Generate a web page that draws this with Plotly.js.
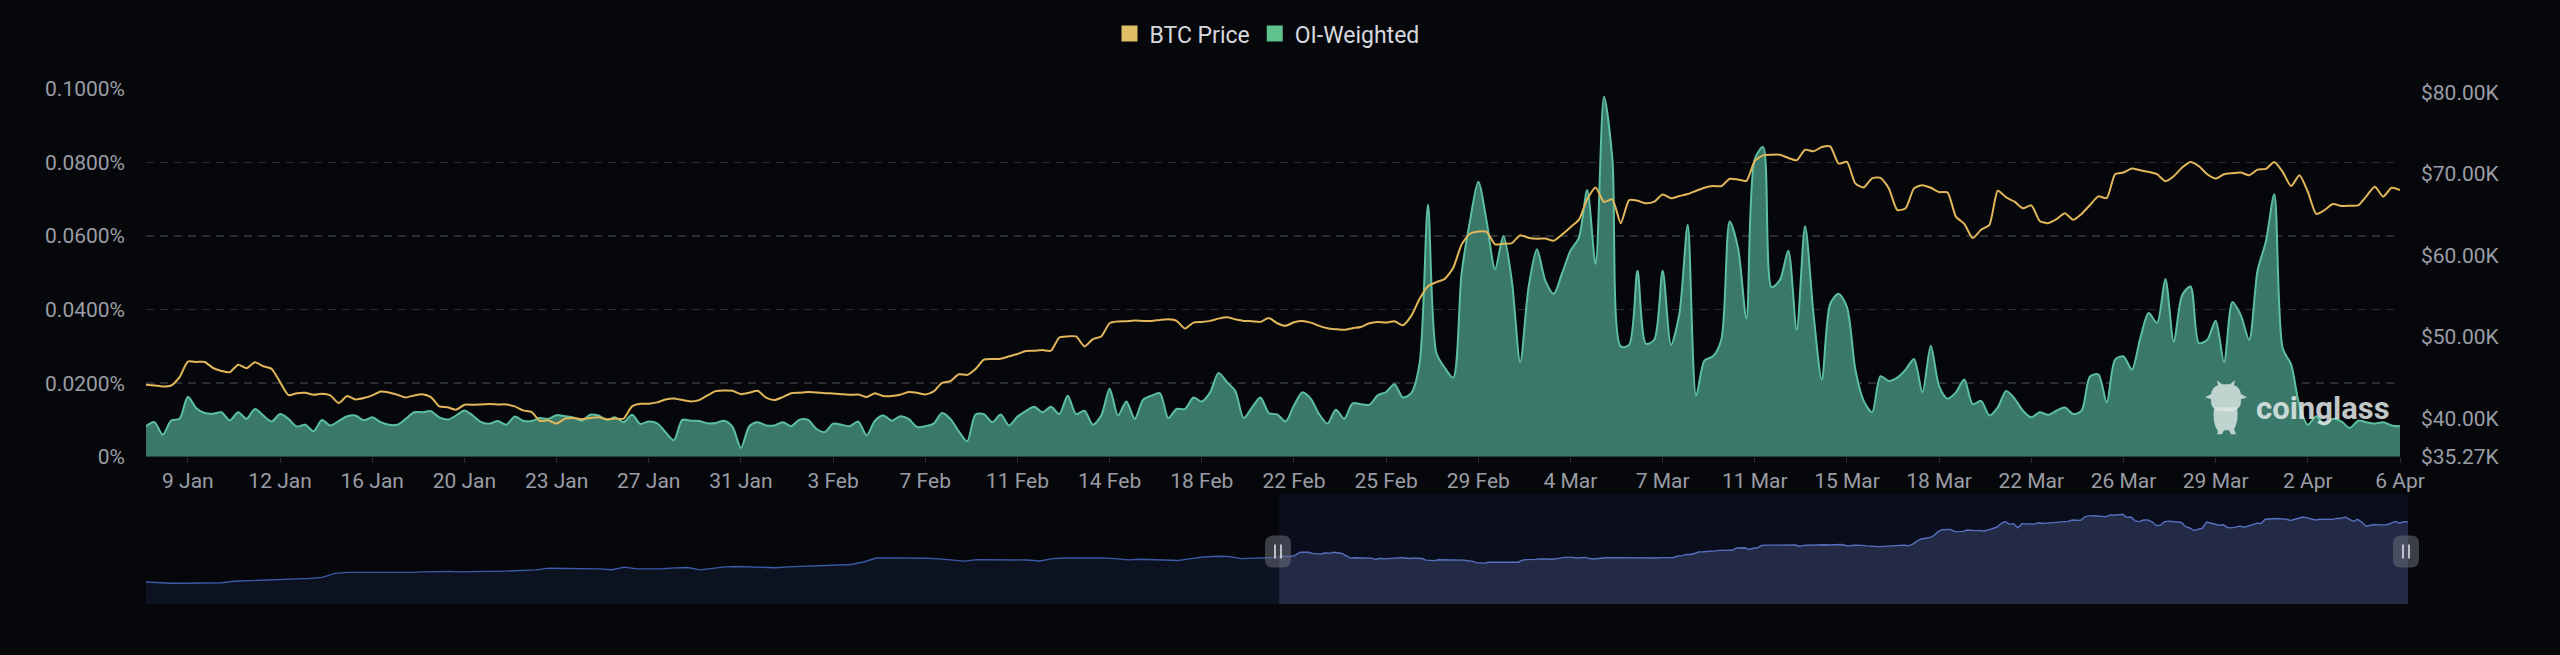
<!DOCTYPE html>
<html>
<head>
<meta charset="utf-8">
<script src="https://cdn.plot.ly/plotly-3.0.1.min.js"></script>
<style>
html,body{margin:0;padding:0;background:#06070b;}
#chart{width:2560px;height:655px;}
</style>
</head>
<body>
<div id="chart"></div>
<script>
// ---- data (8-hourly, first point 2024-01-07 08:00) ----
const seriesStart = '2024-01-07 08:00';
const stepMs = 8 * 3600 * 1000;

// OI-weighted funding rate, in %
const oiWeighted = [
0.0083,0.0094,0.0060,0.0098,0.0103,0.0163,0.0132,0.0119,0.0117,0.0121,
0.0099,0.0121,0.0103,0.0130,0.0112,0.0096,0.0116,0.0103,0.0082,0.0087,
0.0069,0.0100,0.0085,0.0097,0.0110,0.0112,0.0099,0.0107,0.0094,0.0087,
0.0087,0.0103,0.0121,0.0121,0.0124,0.0107,0.0101,0.0112,0.0126,0.0112,
0.0094,0.0090,0.0097,0.0087,0.0109,0.0098,
0.0097,0.0105,0.0103,0.0113,0.0110,0.0107,0.0098,0.0114,0.0112,0.0100,
0.0107,0.0094,0.0114,0.0089,0.0096,0.0091,0.0067,0.0045,0.0100,0.0098,
0.0097,0.0091,0.0092,0.0098,0.0081,0.0024,0.0083,0.0094,0.0085,0.0085,
0.0094,0.0083,0.0101,0.0100,0.0076,0.0067,0.0090,0.0087,0.0083,0.0096,
0.0058,0.0098,0.0112,0.0098,0.0110,0.0103,
0.0081,0.0083,0.0090,0.0119,0.0103,0.0069,0.0042,0.0115,0.0116,0.0094,
0.0115,0.0085,0.0109,0.0124,0.0136,0.0121,0.0136,0.0116,0.0166,0.0116,
0.0125,0.0087,0.0112,0.0185,0.0112,0.0150,0.0103,0.0155,0.0166,0.0173,
0.0105,0.0130,0.0130,0.0161,0.0150,0.0175,0.0228,0.0203,0.0179,0.0105,
0.0134,0.0161,0.0119,0.0115,0.0096,
0.0139,0.0175,0.0158,0.0116,0.0090,0.0128,0.0103,0.0145,0.0143,0.0141,
0.0167,0.0176,0.0197,0.0161,0.0173,0.0255,0.0685,0.0282,0.0242,0.0215,
0.0497,0.0640,0.0748,0.0640,0.0510,0.0600,0.0479,0.0257,0.0461,0.0564,
0.0479,0.0443,0.0499,0.0560,0.0595,0.0725,0.0524,0.0979,0.0810,0.0300,
0.0304,0.0506,0.0307,0.0318,0.0506,0.0304,
0.0389,0.0631,0.0166,0.0262,0.0273,0.0318,0.0640,0.0568,0.0376,0.0810,
0.0842,0.0461,0.0481,0.0560,0.0345,0.0627,0.0389,0.0210,0.0416,0.0443,
0.0407,0.0237,0.0152,0.0121,0.0219,0.0206,0.0215,0.0237,0.0266,0.0175,
0.0302,0.0192,0.0158,0.0175,0.0210,0.0143,0.0152,0.0112,0.0134,0.0179,
0.0158,0.0125,0.0107,0.0121,0.0114,
0.0125,0.0134,0.0116,0.0125,0.0218,0.0224,0.0148,0.0264,0.0273,0.0237,
0.0322,0.0391,0.0364,0.0483,0.0313,0.0439,0.0463,0.0309,0.0318,0.0370,
0.0257,0.0421,0.0385,0.0318,0.0506,0.0586,0.0714,0.0295,0.0251,0.0139,
0.0087,0.0110,0.0087,0.0103,0.0096,0.0078,0.0098,0.0094,0.0090,0.0094,
0.0085,0.0083
];

// BTC price, in thousands of USD
const btcPriceK = [
44.09,44.01,43.89,44.01,45.03,46.94,46.90,46.90,46.16,45.80,
45.64,46.57,46.12,46.86,46.37,46.04,44.42,42.83,43.07,43.12,
42.87,42.99,42.79,41.86,42.71,42.30,42.47,42.79,43.28,43.16,
42.87,42.55,42.79,42.95,42.59,41.45,41.33,41.04,41.65,41.65,
41.69,41.73,41.69,41.69,41.45,40.96,
40.76,39.66,39.74,39.34,39.95,40.03,39.86,40.03,40.11,39.86,
39.95,39.95,41.45,41.77,41.77,41.94,42.30,42.42,42.22,42.06,
42.22,42.79,43.32,43.40,43.36,42.95,43.12,43.36,42.51,42.22,
42.59,43.07,43.12,43.20,43.16,43.07,43.03,42.95,42.87,42.91,
42.59,43.07,42.71,42.71,42.87,43.20,
43.12,42.91,43.28,44.34,44.54,45.39,45.31,46.04,47.18,47.26,
47.30,47.59,47.87,48.24,48.28,48.36,48.28,49.90,50.03,50.03,
48.81,49.70,50.03,51.65,51.86,51.90,51.98,51.94,51.94,52.06,
52.14,51.94,51.00,51.73,51.81,51.94,52.22,52.38,52.14,51.94,
51.90,51.82,52.30,51.65,51.33,
51.77,51.94,51.73,51.33,51.04,50.92,50.84,51.04,51.20,51.65,
51.81,51.73,51.90,51.41,52.55,54.66,56.20,56.69,57.10,58.44,
61.29,62.63,62.91,62.87,61.33,61.41,61.49,62.46,62.14,62.02,
62.06,61.77,62.55,63.44,64.33,66.86,68.32,66.53,66.86,63.93,
66.77,66.69,66.37,66.57,67.46,66.98,
67.26,67.51,67.91,68.28,68.48,68.48,69.38,69.29,69.13,71.57,
72.26,72.34,72.34,71.94,71.65,72.95,72.75,73.28,73.36,71.25,
71.45,68.81,68.32,69.42,69.50,68.20,65.55,65.76,68.20,68.60,
68.28,67.75,67.71,64.74,63.85,62.10,63.12,63.73,67.91,67.10,
66.57,65.76,66.12,64.21,63.93,
64.42,65.15,64.34,65.07,66.16,67.22,67.02,69.94,70.15,70.64,
70.43,70.23,69.94,69.09,69.70,70.76,71.45,70.92,69.94,69.42,
69.94,70.07,70.15,69.82,70.51,70.60,71.45,70.23,68.48,69.82,
67.79,65.07,65.55,66.29,66.04,66.08,66.12,67.26,68.40,67.18,
68.28,67.99
];

// Navigator: earlier BTC price history (daily, from 2023-10-09 08:00), thousands USD
const navStart = '2023-10-09 08:00';
const navStepMs = 24 * 3600 * 1000;
const navEarlierK = [
26.2,25.6,25.3,25.3,25.3,25.3,25.6,26.7,27.0,27.4,
27.4,27.7,28.4,28.7,29.4,32.2,32.9,32.9,32.5,32.9,
32.9,32.9,33.2,33.6,33.6,33.2,33.6,33.6,33.6,33.9,
34.3,34.6,35.8,35.8,35.8,35.6,35.3,34.7,36.5,35.3,
35.3,35.4,36.0,36.3,34.6,35.6,36.7,37.0,36.7,36.3,
36.1,36.7,37.0,37.0,37.4,38.0,38.4,40.1,42.9,43.0,
43.0,43.0,42.7,42.3,41.5,40.7,41.8,41.8,41.7,41.6,
41.5,40.8,42.5,42.9,43.0,43.0,43.0,42.5,41.6,42.0,
41.8,41.5,41.2,42.5,43.6,44.1,43.9,42.5,42.9,43.2,43.4
];

// Axis ticks
const xTickDates = ['2024-01-09 00:00','2024-01-12 16:00','2024-01-16 08:00','2024-01-20 00:00','2024-01-23 16:00',
'2024-01-27 08:00','2024-01-31 00:00','2024-02-03 16:00','2024-02-07 08:00','2024-02-11 00:00','2024-02-14 16:00',
'2024-02-18 08:00','2024-02-22 00:00','2024-02-25 16:00','2024-02-29 08:00','2024-03-04 00:00','2024-03-07 16:00',
'2024-03-11 08:00','2024-03-15 00:00','2024-03-18 16:00','2024-03-22 08:00','2024-03-26 00:00','2024-03-29 16:00',
'2024-04-02 08:00','2024-04-06 00:00'];
const xTickLabels = ['9 Jan','12 Jan','16 Jan','20 Jan','23 Jan','27 Jan','31 Jan','3 Feb','7 Feb','11 Feb','14 Feb',
'18 Feb','22 Feb','25 Feb','29 Feb','4 Mar','7 Mar','11 Mar','15 Mar','18 Mar','22 Mar','26 Mar','29 Mar','2 Apr','6 Apr'];
const rateTickVals = [0, 0.02, 0.04, 0.06, 0.08, 0.1];
const rateTickLabels = ['0%','0.0200%','0.0400%','0.0600%','0.0800%','0.1000%'];
const priceTickVals = [35.27, 40, 50, 60, 70, 80];
const priceTickLabels = ['$35.27K','$40.00K','$50.00K','$60.00K','$70.00K','$80.00K'];
const seriesEnd = '2024-04-06 00:00';

// ---- layout geometry (pixels) ----
const W = 2560, H = 655;
const L = 146, R = 2408, T = 83, B = 604;
const mainBottom = 455, mainRight = 2400, navTop = 493;
const pw = R - L, ph = B - T;
const px = v => (v - L) / pw;
const py = v => (B - v) / ph;

const FONT = 'Roboto, "Noto Sans", sans-serif';
const tickColor = '#9a9da5';
const gridColor = '#2a2d34';

const traces = [
  {
    type: 'scatter', mode: 'lines', name: 'OI-Weighted', showlegend: false,
    x0: seriesStart, dx: stepMs, y: oiWeighted,
    xaxis: 'x', yaxis: 'y',
    line: {color: '#5cbf9f', width: 2, shape: 'spline', smoothing: 0.8},
    fill: 'tozeroy', fillcolor: '#3a786a', hoverinfo: 'skip'
  },
  {
    type: 'scatter', mode: 'lines', name: 'BTC Price', showlegend: false,
    x0: seriesStart, dx: stepMs, y: btcPriceK,
    xaxis: 'x', yaxis: 'y2',
    line: {color: '#e2b65a', width: 2, shape: 'spline', smoothing: 0.6},
    hoverinfo: 'skip'
  },
  // legend entries
  {type: 'scatter', mode: 'markers', name: 'BTC Price', x: [null], y: [null], xaxis: 'x', yaxis: 'y',
   marker: {symbol: 'square', size: 18, color: '#e2bd68'}, showlegend: true},
  {type: 'scatter', mode: 'markers', name: 'OI-Weighted', x: [null], y: [null], xaxis: 'x', yaxis: 'y',
   marker: {symbol: 'square', size: 18, color: '#5fc28e'}, showlegend: true},
  // navigator
  {
    type: 'scatter', mode: 'lines', showlegend: false,
    x0: navStart, dx: navStepMs, y: navEarlierK, xaxis: 'x2', yaxis: 'y3',
    line: {color: '#3b5aa8', width: 1.4}, fill: 'tozeroy', fillcolor: '#0d1221', hoverinfo: 'skip'
  },
  {
    type: 'scatter', mode: 'lines', showlegend: false,
    x0: seriesStart, dx: stepMs, y: btcPriceK, xaxis: 'x2', yaxis: 'y3',
    line: {color: '#5670c0', width: 1.4}, fill: 'tozeroy', fillcolor: '#222a45', hoverinfo: 'skip'
  }
];

function handle(pxX) {
  const shp = [];
  const xc = px(pxX), yc = py(551);
  shp.push({
    type: 'path', xref: 'paper', yref: 'paper', xsizemode: 'pixel', ysizemode: 'pixel',
    xanchor: xc, yanchor: yc,
    path: 'M -13 -8 L -13 8 Q -13 16 -5 16 L 5 16 Q 13 16 13 8 L 13 -8 Q 13 -16 5 -16 L -5 -16 Q -13 -16 -13 -8 Z',
    fillcolor: 'rgba(105,108,118,0.55)', line: {width: 0}, layer: 'above'
  });
  [-3, 3].forEach(dxp => shp.push({
    type: 'line', xref: 'paper', yref: 'paper', xsizemode: 'pixel', ysizemode: 'pixel',
    xanchor: xc, yanchor: yc, x0: dxp, x1: dxp, y0: -7, y1: 7,
    line: {color: 'rgba(220,222,228,0.8)', width: 2}, layer: 'above'
  }));
  return shp;
}

const logoX = px(2226), logoY = py(407);
const logoShapes = [
  {type: 'path', xref: 'paper', yref: 'paper', xsizemode: 'pixel', ysizemode: 'pixel', xanchor: logoX, yanchor: logoY,
   path: 'M -12 2 Q -14 -14 -8 -22 L -9 -25 L -4 -25 L -2 -21 L 3 -21 L 5 -25 L 10 -25 L 8 -20 Q 13 -12 11 2 Z',
   fillcolor: 'rgba(222,232,229,0.82)', line: {width: 0}, layer: 'above'},
  {type: 'path', xref: 'paper', yref: 'paper', xsizemode: 'pixel', ysizemode: 'pixel', xanchor: logoX, yanchor: logoY,
   path: 'M -21 12 L -15 10 Q -16 0 -6 -2 L 6 -2 Q 16 0 15 10 L 21 12 L 15 15 Q 14 22 8 24 L 9 29 L 4 25 L -4 25 L -9 29 L -8 24 Q -14 22 -15 15 Z',
   fillcolor: 'rgba(222,232,229,0.82)', line: {width: 0}, layer: 'above'}
];

const layout = {
  width: W, height: H,
  paper_bgcolor: '#06070b', plot_bgcolor: '#06070b',
  margin: {l: L, r: W - R, t: T, b: H - B, pad: 0},
  font: {family: FONT, color: tickColor, size: 21},
  showlegend: true,
  legend: {
    orientation: 'h', x: px(1267), xanchor: 'center', y: py(27), yanchor: 'middle',
    font: {family: FONT, size: 23, color: '#d6d8de'}, bgcolor: 'rgba(0,0,0,0)',
    itemclick: false, traceorder: 'normal'
  },
  xaxis: {
    type: 'date', domain: [0, (mainRight - L) / pw], anchor: 'y',
    range: [seriesStart, seriesEnd],
    tickmode: 'array', tickvals: xTickDates, ticktext: xTickLabels,
    ticks: 'outside', ticklen: 5, tickcolor: gridColor, tickwidth: 1,
    tickfont: {family: FONT, size: 21, color: tickColor},
    ticklabelstandoff: 0,
    showgrid: false, showline: false, zeroline: false, fixedrange: true
  },
  yaxis: {
    domain: [py(mainBottom), 1], anchor: 'x',
    range: [0, 0.1],
    tickmode: 'array', tickvals: rateTickVals, ticktext: rateTickLabels,
    tickfont: {family: FONT, size: 21, color: tickColor},
    ticklabelstandoff: 20,
    showgrid: true, gridcolor: gridColor, griddash: '8px,6px', gridwidth: 1.5,
    zeroline: false, showline: false, fixedrange: true
  },
  yaxis2: {
    overlaying: 'y', side: 'right', anchor: 'x',
    range: [35.27, 80.4],
    tickmode: 'array', tickvals: priceTickVals, ticktext: priceTickLabels,
    tickfont: {family: FONT, size: 21, color: tickColor},
    ticklabelstandoff: 20,
    showgrid: false, zeroline: false, showline: false, fixedrange: true
  },
  xaxis2: {
    type: 'date', domain: [0, 1], anchor: 'y3',
    range: [navStart, seriesEnd],
    showticklabels: false, ticks: '', showgrid: false, zeroline: false, showline: false, fixedrange: true
  },
  yaxis3: {
    domain: [0, py(navTop)], anchor: 'x2',
    range: [10.81, 87.36],
    showticklabels: false, ticks: '', showgrid: false, zeroline: false, showline: false, fixedrange: true
  },
  shapes: [
    {type: 'rect', xref: 'x2', yref: 'paper', x0: seriesStart, x1: seriesEnd, y0: 0, y1: py(navTop),
     fillcolor: '#0a0e1c', line: {width: 0}, layer: 'below'}
  ].concat(handle(1278), handle(2406), logoShapes),
  annotations: [
    {text: 'coinglass', xref: 'paper', yref: 'paper', x: px(2323), y: py(406), xanchor: 'center', yanchor: 'middle',
     showarrow: false, font: {family: FONT, size: 31, color: 'rgba(228,236,234,0.85)', weight: 700}}
  ]
};

Plotly.newPlot('chart', traces, layout, {staticPlot: true, displayModeBar: false});
</script>
</body>
</html>
